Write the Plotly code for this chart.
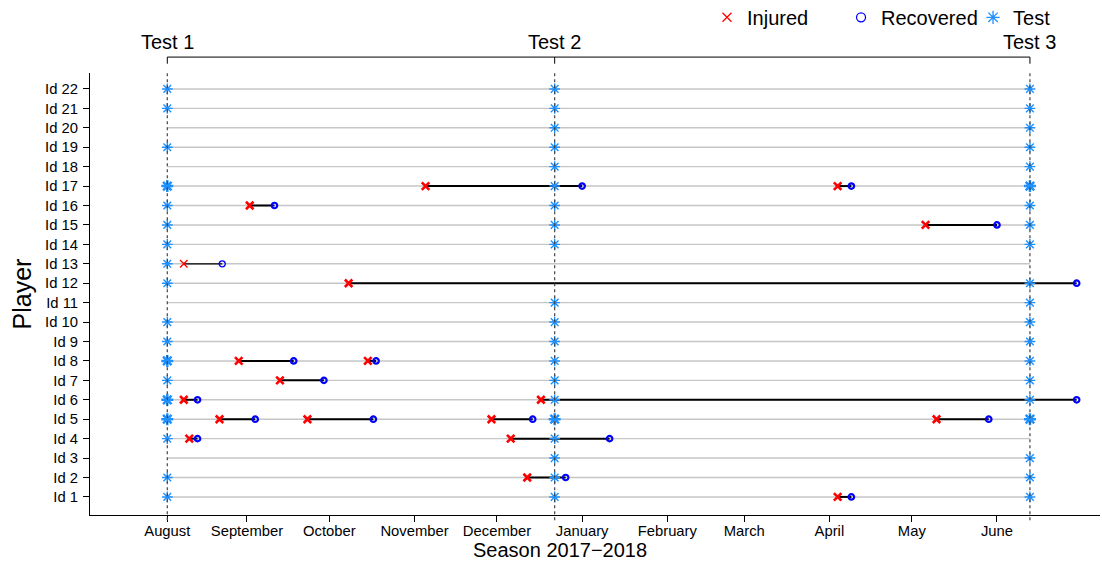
import plotly.graph_objects as go

# ---------------- data ----------------
players = list(range(1, 23))
player_labels = [f"Id {p}" for p in players]

test_names = ["Test 1", "Test 2", "Test 3"]
test_dates = ["2017-08-03", "2017-12-22", "2018-06-13"]
test1_players = [1, 2, 4, 5, 6, 7, 8, 9, 10, 12, 13, 14, 15, 16, 17, 19, 21, 22]
test2_players = [1, 2, 3, 4, 5, 6, 7, 8, 9, 10, 11, 14, 15, 16, 17, 18, 19, 20, 21, 22]
test3_players = [1, 2, 3, 5, 6, 7, 8, 9, 10, 11, 12, 14, 15, 16, 17, 18, 19, 20, 21, 22]
# players tested twice around the same date (drawn as bold asterisks)
test1_repeat = [5, 6, 8, 17]
test2_repeat = [5]
test3_repeat = [5, 17]

inj_player = [17, 17, 16, 15, 13, 12, 8, 8, 7, 6, 6, 5, 5, 5, 5, 4, 4, 2, 1]
inj_date = ["2017-11-05", "2018-04-04", "2017-09-02", "2018-05-06", "2017-08-09",
            "2017-10-08", "2017-08-29", "2017-10-15", "2017-09-13", "2017-08-09",
            "2017-12-17", "2017-08-22", "2017-09-23", "2017-11-29", "2018-05-10",
            "2017-08-11", "2017-12-06", "2017-12-12", "2018-04-04"]
rec_date = ["2018-01-01", "2018-04-09", "2017-09-11", "2018-06-01", "2017-08-23",
            "2018-06-30", "2017-09-18", "2017-10-18", "2017-09-29", "2017-08-14",
            "2018-06-30", "2017-09-04", "2017-10-17", "2017-12-14", "2018-05-29",
            "2017-08-14", "2018-01-11", "2017-12-26", "2018-04-09"]

month_labels = ["August", "September", "October", "November", "December", "January",
                "February", "March", "April", "May", "June"]
month_ticks = [test_dates[0], "2017-09-01", "2017-10-01", "2017-11-01", "2017-12-01",
               "2018-01-01", "2018-02-01", "2018-03-01", "2018-04-01", "2018-05-01",
               "2018-06-01"]

legend_names = ["Injured", "Recovered", "Test"]

# ---------------- styles ----------------
FONT = "Liberation Sans, Arial, Helvetica, sans-serif"
RED = "#FF0000"
BLUE = "#0000FF"
TEST_C = "#1E90FF"
thin_players = {13}

fig = go.Figure()

# grey row lines from first to last test
gx, gy = [], []
for p in players:
    gx += [test_dates[0], test_dates[-1], None]
    gy += [p, p, None]
fig.add_trace(go.Scatter(x=gx, y=gy, mode="lines", line=dict(color="#c6c6c6", width=1.4),
                         showlegend=False, hoverinfo="skip"))

# injury segments
for thin in (False, True):
    sx, sy = [], []
    for p, a, b in zip(inj_player, inj_date, rec_date):
        if (p in thin_players) == thin:
            sx += [a, b, None]
            sy += [p, p, None]
    fig.add_trace(go.Scatter(x=sx, y=sy, mode="lines",
                             line=dict(color="black", width=1.2 if thin else 2),
                             showlegend=False, hoverinfo="skip"))

# test markers
tx, ty, rx, ry = [], [], [], []
for d, pl, rp in zip(test_dates, [test1_players, test2_players, test3_players],
                     [test1_repeat, test2_repeat, test3_repeat]):
    tx += [d] * len(pl)
    ty += pl
    rx += [d] * len(rp)
    ry += rp
fig.add_trace(go.Scatter(x=tx, y=ty, mode="markers",
                         marker=dict(symbol="asterisk-open", size=9, color=TEST_C,
                                     line=dict(color=TEST_C, width=1.4)),
                         showlegend=False))
fig.add_trace(go.Scatter(x=rx, y=ry, mode="markers",
                         marker=dict(symbol="asterisk-open", size=10, color=TEST_C,
                                     line=dict(color=TEST_C, width=2.4)),
                         showlegend=False))

# injured / recovered markers
for thin in (False, True):
    ix = [d for p, d in zip(inj_player, inj_date) if (p in thin_players) == thin]
    iy = [p for p in inj_player if (p in thin_players) == thin]
    cx = [d for p, d in zip(inj_player, rec_date) if (p in thin_players) == thin]
    fig.add_trace(go.Scatter(x=ix, y=iy, mode="markers",
                             marker=dict(symbol="x-thin-open", size=7.5, color=RED,
                                         line=dict(color=RED, width=1.3 if thin else 2.6)),
                             showlegend=False))
    fig.add_trace(go.Scatter(x=cx, y=iy, mode="markers",
                             marker=dict(symbol="circle-open", size=6 if thin else 5.5,
                                         color=BLUE,
                                         line=dict(color=BLUE, width=1.3 if thin else 2.2)),
                             showlegend=False))

# legend entries (one legend box each, so they can be placed like the original)
legend_symbols = ["x-thin-open", "circle-open", "asterisk-open"]
legend_colors = [RED, BLUE, TEST_C]
legend_sizes = [9, 9, 11]
legend_ids = ["legend", "legend2", "legend3"]
legend_x = [0.6109, 0.7436, 0.8743]
for name, sym, col, sz, lid in zip(legend_names, legend_symbols, legend_colors,
                                   legend_sizes, legend_ids):
    fig.add_trace(go.Scatter(x=[None], y=[None], mode="markers", name=name, legend=lid,
                             marker=dict(symbol=sym, size=sz, color=col,
                                         line=dict(color=col, width=1.3))))

# dotted test lines, top bracket axis, labels
shapes = []
for d in test_dates:
    shapes.append(dict(type="line", xref="x", yref="paper", x0=d, x1=d, y0=-0.012, y1=1,
                       line=dict(color="#444444", width=1.2, dash="dot"), layer="above"))
    shapes.append(dict(type="line", xref="x", yref="paper", x0=d, x1=d, y0=1.036, y1=1.021,
                       line=dict(color="black", width=1)))
shapes.append(dict(type="line", xref="x", yref="paper", x0=test_dates[0], x1=test_dates[-1],
                   y0=1.036, y1=1.036, line=dict(color="black", width=1)))

annotations = [dict(x=d, y=1.070, xref="x", yref="paper", text=n, showarrow=False,
                    yanchor="middle", xanchor="center", font=dict(size=20, color="black"))
               for d, n in zip(test_dates, test_names)]
annotations.append(dict(x=0.4653, y=-0.079, xref="paper", yref="paper",
                        text="Season 2017\u22122018", showarrow=False,
                        xanchor="center", yanchor="middle", font=dict(size=20, color="black")))

legend_common = dict(orientation="h", y=1.126, xanchor="left", yanchor="middle",
                     font=dict(size=20), bgcolor="rgba(0,0,0,0)", itemsizing="trace")

fig.update_layout(
    width=1102, height=563,
    margin=dict(l=90, r=2, t=73, b=48, autoexpand=False),
    paper_bgcolor="white", plot_bgcolor="white",
    font=dict(family=FONT, color="black"),
    shapes=shapes, annotations=annotations,
    showlegend=True,
    legend=dict(x=legend_x[0], **legend_common),
    legend2=dict(x=legend_x[1], **legend_common),
    legend3=dict(x=legend_x[2], **legend_common),
    xaxis=dict(type="date", range=["2017-07-05 20:40", "2018-07-08 12:00"],
               tickmode="array", tickvals=month_ticks, ticktext=month_labels,
               ticks="outside", ticklen=6, tickcolor="black", tickfont=dict(size=14.8),
               ticklabelstandoff=-4,
               showline=True, linecolor="black", linewidth=1, showgrid=False,
               zeroline=False),
    yaxis=dict(range=[0.07, 22.82], tickmode="array", tickvals=players,
               ticktext=player_labels, ticks="outside", ticklen=6, tickcolor="black",
               tickfont=dict(size=14.8), ticklabelstandoff=2,
               showline=True, linecolor="black", linewidth=1,
               showgrid=False, zeroline=False,
               title=dict(text="Player", font=dict(size=25), standoff=6)),
)

fig.write_html("out.html")
